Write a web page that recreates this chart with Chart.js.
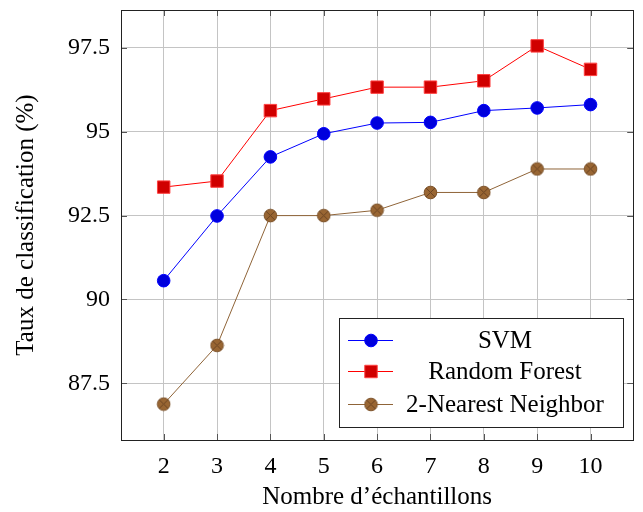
<!DOCTYPE html>
<html>
<head>
<meta charset="utf-8">
<script src="https://cdn.jsdelivr.net/npm/chart.js@4.4.1/dist/chart.umd.min.js"></script>
<style>
  html, body { margin: 0; padding: 0; background: #fff; }
  #wrap { width: 643px; height: 512px; }
</style>
</head>
<body>
<div id="wrap"><canvas id="chart" width="643" height="512"></canvas></div>
<script>
const samples = [2, 3, 4, 5, 6, 7, 8, 9, 10];
const svmValues = [90.56, 92.49, 94.25, 94.94, 95.26, 95.28, 95.63, 95.71, 95.81];
const rfValues = [93.35, 93.53, 95.63, 95.98, 96.33, 96.33, 96.52, 97.56, 96.86];
const knnValues = [86.88, 88.63, 92.5, 92.5, 92.66, 93.19, 93.19, 93.89, 93.89];
const yTicks = [87.5, 90, 92.5, 95, 97.5];
const seriesNames = ['SVM', 'Random Forest', '2-Nearest Neighbor'];

const FONT = "'Liberation Serif', 'Times New Roman', serif";

// circle with a cross inside (pgfplots otimes*)
function makeOtimes(r) {
  const size = Math.ceil(r * 2 + 2);
  const c = document.createElement('canvas');
  c.width = size;
  c.height = size;
  const g = c.getContext('2d');
  const m = size / 2;
  g.beginPath();
  g.arc(m, m, r, 0, Math.PI * 2);
  g.fillStyle = '#996633';
  g.fill();
  g.lineWidth = 1;
  g.strokeStyle = '#7a4f26';
  g.stroke();
  const d = r * Math.SQRT1_2;
  g.beginPath();
  g.moveTo(m - d, m - d); g.lineTo(m + d, m + d);
  g.moveTo(m + d, m - d); g.lineTo(m - d, m + d);
  g.strokeStyle = '#6b4423';
  g.stroke();
  return c;
}
const otimes = makeOtimes(6.3);

const toPoints = vals => vals.map((v, i) => ({ x: samples[i], y: v }));

const frame = {
  id: 'frame',
  afterDraw(chart) {
    const { ctx, chartArea: a, scales } = chart;
    ctx.save();
    // inner tick marks
    ctx.strokeStyle = '#555';
    ctx.lineWidth = 1;
    ctx.beginPath();
    const t = 6;
    yTicks.forEach(v => {
      const y = Math.round(scales.y.getPixelForValue(v)) + 0.5;
      ctx.moveTo(a.left, y); ctx.lineTo(a.left + t, y);
      ctx.moveTo(a.right, y); ctx.lineTo(a.right - t, y);
    });
    samples.forEach(v => {
      const x = Math.round(scales.x.getPixelForValue(v)) + 0.5;
      ctx.moveTo(x, a.bottom); ctx.lineTo(x, a.bottom - t);
      ctx.moveTo(x, a.top); ctx.lineTo(x, a.top + t);
    });
    ctx.stroke();
    ctx.strokeStyle = '#222';
    ctx.strokeRect(Math.round(a.left) + 0.5, Math.round(a.top) + 0.5,
      Math.round(a.right - a.left), Math.round(a.bottom - a.top));

    // legend box
    const bx = 339, by = 318, bw = 284, bh = 109;
    ctx.fillStyle = '#fff';
    ctx.fillRect(bx, by, bw, bh);
    ctx.strokeStyle = '#222';
    ctx.strokeRect(bx + 0.5, by + 0.5, bw, bh);
    const rows = [340, 371, 404];
    chart.data.datasets.forEach((ds, i) => {
      const y = rows[i];
      ctx.strokeStyle = ds.borderColor;
      ctx.lineWidth = 1;
      ctx.beginPath();
      ctx.moveTo(348, y + 0.5);
      ctx.lineTo(393, y + 0.5);
      ctx.stroke();
      ctx.fillStyle = ds.pointBackgroundColor;
      ctx.strokeStyle = ds.pointBorderColor;
      Chart.helpers.drawPoint(ctx, {
        pointStyle: ds.pointStyle,
        radius: ds.pointRadius,
        rotation: 0,
        borderWidth: 1,
      }, 371, y + 0.5);
      ctx.fillStyle = '#000';
      ctx.font = `25px ${FONT}`;
      ctx.textAlign = 'center';
      ctx.textBaseline = 'middle';
      ctx.fillText(ds.label, 505, y + 1);
    });
    ctx.restore();
  },
};

new Chart(document.getElementById('chart'), {
  type: 'line',
  data: {
    datasets: [
      {
        label: seriesNames[0],
        data: toPoints(svmValues),
        borderColor: '#0000ff',
        borderWidth: 1,
        tension: 0,
        pointStyle: 'circle',
        pointRadius: 6.3,
        pointBackgroundColor: '#0000dd',
        pointBorderColor: '#0000ff',
        pointBorderWidth: 1,
      },
      {
        label: seriesNames[1],
        data: toPoints(rfValues),
        borderColor: '#ff0000',
        borderWidth: 1,
        tension: 0,
        pointStyle: 'rect',
        pointRadius: 8.8,
        pointBackgroundColor: '#d00000',
        pointBorderColor: '#ff4040',
        pointBorderWidth: 1,
      },
      {
        label: seriesNames[2],
        data: toPoints(knnValues),
        borderColor: '#8f6438',
        borderWidth: 1,
        tension: 0,
        pointStyle: otimes,
        pointRadius: 6.3,
        pointBackgroundColor: '#996633',
        pointBorderColor: '#7a4f26',
        pointBorderWidth: 1,
      },
    ],
  },
  options: {
    responsive: false,
    animation: false,
    layout: { padding: { left: 0, top: 10, right: 4, bottom: 0 } },
    plugins: {
      legend: { display: false },
      tooltip: { enabled: false },
    },
    scales: {
      x: {
        type: 'linear',
        min: 1.2,
        max: 10.8,
        afterFit: s => { s.height = 72; s.paddingLeft = 0; s.paddingRight = 0; },
        afterBuildTicks: s => { s.ticks = samples.map(v => ({ value: v })); },
        grid: { color: '#c4c4c4', lineWidth: 1, drawTicks: false },
        border: { display: false },
        ticks: {
          color: '#000',
          padding: 12,
          font: { family: FONT, size: 24 },
          callback: v => String(v),
          maxRotation: 0,
        },
        title: {
          display: true,
          text: 'Nombre d’échantillons',
          color: '#000',
          font: { family: FONT, size: 25 },
          padding: { top: 0, bottom: 0 },
        },
      },
      y: {
        type: 'linear',
        min: 85.81,
        max: 98.63,
        afterFit: s => { s.width = 121; s.paddingTop = 0; s.paddingBottom = 0; },
        afterBuildTicks: s => { s.ticks = yTicks.map(v => ({ value: v })); },
        grid: { color: '#c4c4c4', lineWidth: 1, drawTicks: false },
        border: { display: false },
        ticks: {
          color: '#000',
          padding: 11,
          font: { family: FONT, size: 24 },
          callback: v => String(v),
        },
        title: {
          display: true,
          text: 'Taux de classification (%)',
          color: '#000',
          font: { family: FONT, size: 25 },
          padding: { top: 11, bottom: 0 },
        },
      },
    },
  },
  plugins: [frame],
});
</script>
</body>
</html>
